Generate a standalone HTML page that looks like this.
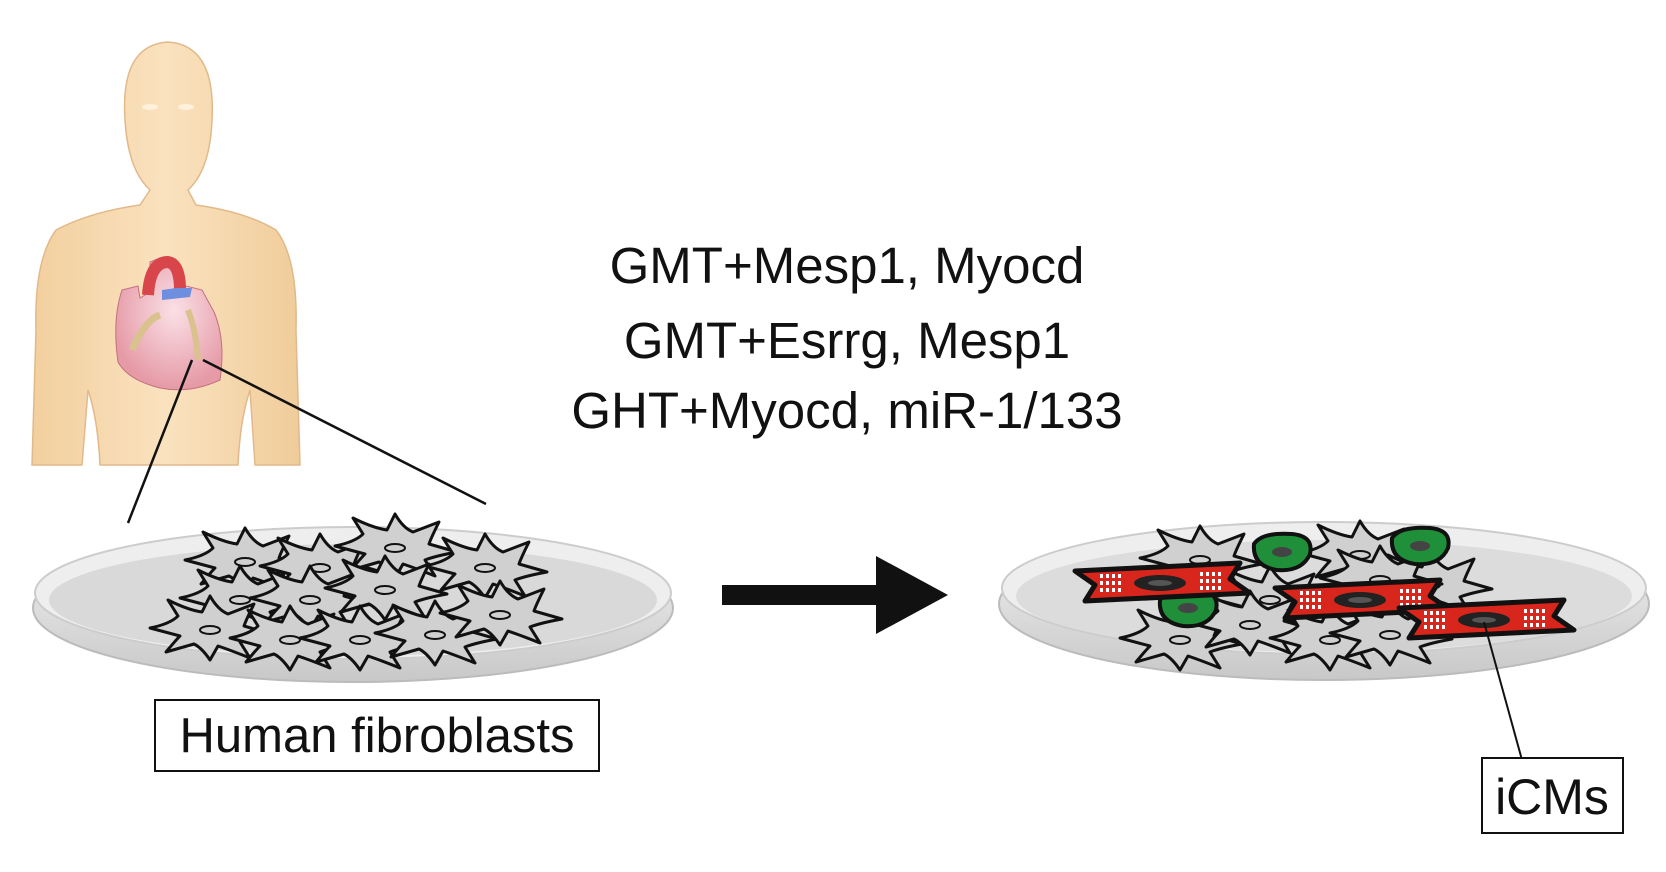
<!DOCTYPE html>
<html><head><meta charset="utf-8"><style>
html,body{margin:0;padding:0;background:#fff;}
svg{display:block;}
</style></head><body>
<svg width="1666" height="872" viewBox="0 0 1666 872" xmlns="http://www.w3.org/2000/svg">
<defs>
<linearGradient id="skin" x1="0" y1="0" x2="1" y2="0">
<stop offset="0" stop-color="#f2cf9e"/><stop offset="0.5" stop-color="#fae2bf"/><stop offset="1" stop-color="#f0cc9a"/></linearGradient>
<radialGradient id="heart" cx="0.55" cy="0.4" r="0.6"><stop offset="0" stop-color="#fbe0e6"/><stop offset="1" stop-color="#e59aa6"/></radialGradient>
<linearGradient id="rim" x1="0" y1="0" x2="0" y2="1"><stop offset="0" stop-color="#f4f4f4"/><stop offset="1" stop-color="#c8c8c8"/></linearGradient>
<g id="fib">
<path d="M-60,-2 Q-40,-6 -32,-14 L-42,-30 Q-22,-20 -8,-18 L0,-34 Q8,-20 18,-16 L44,-26 Q36,-10 34,-4 L62,4 Q40,8 30,12 L40,28 Q20,20 8,16 L0,30 Q-8,18 -16,14 L-44,22 Q-34,10 -30,6 Z" fill="#d0d0d0" stroke="#111" stroke-width="3" stroke-linejoin="round"/>
<ellipse cx="0" cy="0" rx="10" ry="4" fill="none" stroke="#111" stroke-width="2"/>
</g>
<g id="cm">
<path d="M-85,-12 L80,-20 L70,-4 L90,10 L-75,18 L-65,2 Z" fill="#d8261c" stroke="#111" stroke-width="5" stroke-linejoin="round"/>
<ellipse cx="0" cy="0" rx="26" ry="8" fill="#222"/>
<ellipse cx="0" cy="0" rx="12" ry="3" fill="#555"/>
<g fill="#fff"><rect x="-60" y="-9" width="3" height="4"/><rect x="-54" y="-9" width="3" height="4"/><rect x="-48" y="-9" width="3" height="4"/><rect x="-42" y="-9" width="3" height="4"/>
<rect x="-60" y="-2" width="3" height="4"/><rect x="-54" y="-2" width="3" height="4"/><rect x="-48" y="-2" width="3" height="4"/><rect x="-42" y="-2" width="3" height="4"/>
<rect x="-60" y="5" width="3" height="4"/><rect x="-54" y="5" width="3" height="4"/><rect x="-48" y="5" width="3" height="4"/><rect x="-42" y="5" width="3" height="4"/>
<rect x="40" y="-11" width="3" height="4"/><rect x="46" y="-11" width="3" height="4"/><rect x="52" y="-11" width="3" height="4"/><rect x="58" y="-11" width="3" height="4"/>
<rect x="40" y="-4" width="3" height="4"/><rect x="46" y="-4" width="3" height="4"/><rect x="52" y="-4" width="3" height="4"/><rect x="58" y="-4" width="3" height="4"/>
<rect x="40" y="3" width="3" height="4"/><rect x="46" y="3" width="3" height="4"/><rect x="52" y="3" width="3" height="4"/><rect x="58" y="3" width="3" height="4"/></g>
</g>
<g id="gr">
<path d="M-28,-10 Q-20,-22 10,-20 Q32,-18 28,0 Q20,18 -5,16 Q-30,12 -28,-10 Z" fill="#1f8f3a" stroke="#111" stroke-width="4"/>
<ellipse cx="0" cy="-2" rx="10" ry="5" fill="#444"/>
</g>
</defs>

<!-- person -->
<path d="M32,465 L36,330 Q34,260 56,230 Q90,212 140,205 L150,190 Q128,170 125,120 Q120,45 168,42 Q216,45 212,120 Q210,170 188,190 L196,205 Q246,212 276,230 Q298,258 296,330 L300,465 L255,465 L250,390 Q240,420 238,465 L100,465 Q98,420 88,390 L82,465 Z" fill="url(#skin)" stroke="#e2b98a" stroke-width="1.5"/>
<ellipse cx="150" cy="107" rx="8" ry="3" fill="#fff1dc"/><ellipse cx="186" cy="107" rx="8" ry="3" fill="#fff1dc"/>
<!-- heart -->
<path d="M122,290 L138,286 L140,298 L150,292 L150,262 L160,258 L170,264 L178,284 L202,290 L214,312 Q226,340 220,380 Q190,394 160,388 Q128,380 118,362 Q112,320 122,290 Z" fill="url(#heart)" stroke="#c27080" stroke-width="1"/>
<path d="M148,295 Q150,262 168,262 Q180,264 180,290" fill="none" stroke="#d8464c" stroke-width="12"/>
<path d="M162,300 L190,297 L192,288 L176,288 L162,290 Z" fill="#6e8fe0"/>
<path d="M132,350 Q145,320 160,315" fill="none" stroke="#d9c28e" stroke-width="7"/>
<path d="M188,310 Q196,330 198,360" fill="none" stroke="#d9c28e" stroke-width="6"/>
<line x1="192" y1="360" x2="128" y2="523" stroke="#111" stroke-width="2.5"/>
<line x1="203" y1="360" x2="486" y2="504" stroke="#111" stroke-width="2.5"/>

<!-- text -->
<g font-family="Liberation Sans, sans-serif" font-size="51" fill="#111" text-anchor="middle">
<text x="847" y="283">GMT+Mesp1, Myocd</text>
<text x="847" y="358">GMT+Esrrg, Mesp1</text>
<text x="847" y="428">GHT+Myocd, miR-1/133</text>
</g>

<!-- left dish -->
<ellipse cx="353" cy="608" rx="320" ry="74" fill="url(#rim)" stroke="#bbb" stroke-width="2"/>
<ellipse cx="353" cy="593" rx="318" ry="66" fill="#eeeeee" stroke="#ccc" stroke-width="2"/>
<ellipse cx="353" cy="600" rx="304" ry="56" fill="#d9d9d9"/>
<use href="#fib" x="245" y="562"/><use href="#fib" x="320" y="568"/><use href="#fib" x="395" y="548"/>
<use href="#fib" x="485" y="568"/><use href="#fib" x="240" y="600"/><use href="#fib" x="310" y="600"/>
<use href="#fib" x="385" y="590"/><use href="#fib" x="210" y="630"/><use href="#fib" x="290" y="640"/>
<use href="#fib" x="360" y="640"/><use href="#fib" x="435" y="635"/><use href="#fib" x="500" y="615"/>

<!-- arrow -->
<rect x="722" y="585" width="156" height="20" fill="#111"/>
<polygon points="876,556 948,595 876,634" fill="#111"/>

<!-- right dish -->
<ellipse cx="1324" cy="604" rx="325" ry="76" fill="url(#rim)" stroke="#bbb" stroke-width="2"/>
<ellipse cx="1324" cy="588" rx="322" ry="66" fill="#eeeeee" stroke="#ccc" stroke-width="2"/>
<ellipse cx="1324" cy="596" rx="308" ry="56" fill="#dcdcdc"/>
<use href="#fib" x="1200" y="560"/><use href="#fib" x="1360" y="555"/><use href="#fib" x="1430" y="585"/>
<use href="#fib" x="1270" y="600"/><use href="#fib" x="1380" y="580"/><use href="#fib" x="1180" y="640"/>
<use href="#fib" x="1250" y="625"/><use href="#fib" x="1330" y="640"/><use href="#fib" x="1390" y="635"/>
<use href="#gr" x="1282" y="554"/><use href="#gr" x="1420" y="548"/><use href="#gr" x="1188" y="610"/>
<use href="#cm" x="1160" y="583"/><use href="#cm" x="1360" y="600"/><use href="#cm" x="1484" y="620"/>
<line x1="1484" y1="622" x2="1522" y2="760" stroke="#111" stroke-width="2"/>

<!-- label boxes -->
<rect x="155" y="700" width="444" height="71" fill="#fff" stroke="#111" stroke-width="2"/>
<text x="377" y="752" font-family="Liberation Sans, sans-serif" font-size="49" fill="#111" text-anchor="middle">Human fibroblasts</text>
<rect x="1482" y="758" width="141" height="75" fill="#fff" stroke="#111" stroke-width="2"/>
<text x="1552" y="814" font-family="Liberation Sans, sans-serif" font-size="50" fill="#111" text-anchor="middle">iCMs</text>
</svg>
</body></html>
